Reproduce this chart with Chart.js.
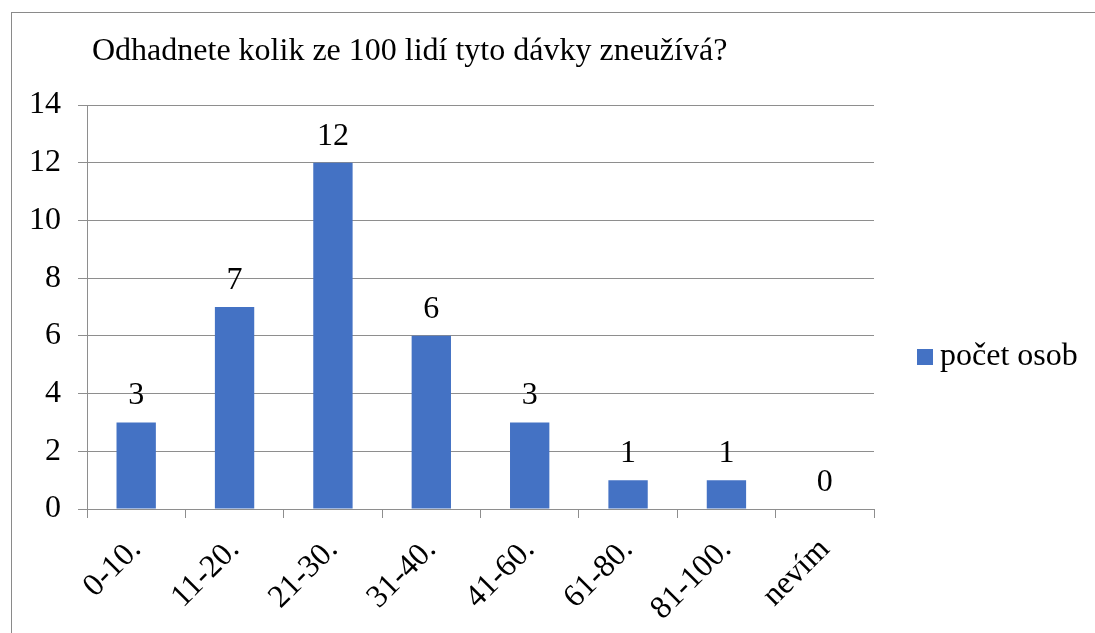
<!DOCTYPE html>
<html lang="cs">
<head>
    <meta charset="UTF-8">
    <title>Odhadnete kolik ze 100 lidí tyto dávky zneužívá?</title>
    <script src="https://cdn.jsdelivr.net/npm/chart.js"></script>
    <style>
        * {
            margin: 0;
            padding: 0;
            box-sizing: border-box;
        }

        body {
            background: #ffffff;
            width: 1095px;
            height: 633px;
            overflow: hidden;
            position: relative;
            font-family: 'Liberation Serif', 'Times New Roman', serif;
            color: #000000;
        }

        .frame {
            position: absolute;
            left: 11px;
            top: 12px;
            width: 1200px;
            height: 800px;
            border-left: 1px solid #8a8a8a;
            border-top: 1px solid #8a8a8a;
        }

        #chart-container {
            position: absolute;
            left: 0;
            top: 0;
            width: 1095px;
            height: 633px;
        }

        .title {
            position: absolute;
            left: 92px;
            top: 33px;
            font-size: 32px;
            line-height: 32px;
            white-space: nowrap;
        }

        .legend {
            position: absolute;
            left: 917px;
            top: 338px;
            font-size: 32px;
            line-height: 32px;
            white-space: nowrap;
            display: flex;
            align-items: flex-start;
        }

        .legend .box {
            display: inline-block;
            width: 16px;
            height: 16px;
            margin-top: 11px;
            margin-right: 7px;
        }
    </style>
</head>
<body>
    <div class="frame"></div>
    <div id="chart-container">
        <canvas id="chart"></canvas>
    </div>
    <div class="title" id="title"></div>
    <div class="legend" id="legend"></div>

    <script>
        // data
        const chartTitle = 'Odhadnete kolik ze 100 lidí tyto dávky zneužívá?';
        const categories = ['0-10.', '11-20.', '21-30.', '31-40.', '41-60.', '61-80.', '81-100.', 'nevím'];
        const seriesName = 'počet osob';
        const counts = [3, 7, 12, 6, 3, 1, 1, 0];
        const yTicks = [0, 2, 4, 6, 8, 10, 12, 14];

        const barColor = '#4472C4';
        const gridColor = '#8e8e8e';
        const fontFamily = "'Liberation Serif', 'Times New Roman', serif";
        const fontSize = 32;

        document.getElementById('title').textContent = chartTitle;
        const legend = document.getElementById('legend');
        const box = document.createElement('span');
        box.className = 'box';
        box.style.background = barColor;
        legend.appendChild(box);
        legend.appendChild(document.createTextNode(seriesName));

        // value labels above the bars
        const valueLabels = {
            id: 'valueLabels',
            afterDatasetsDraw(chart) {
                const ctx = chart.ctx;
                const meta = chart.getDatasetMeta(0);
                ctx.save();
                ctx.font = fontSize + 'px ' + fontFamily;
                ctx.fillStyle = '#000000';
                ctx.textAlign = 'center';
                ctx.textBaseline = 'alphabetic';
                meta.data.forEach((bar, i) => {
                    ctx.fillText(String(counts[i]), bar.x, bar.y - 18);
                });
                ctx.restore();
            }
        };

        const ctx = document.getElementById('chart').getContext('2d');
        new Chart(ctx, {
            type: 'bar',
            data: {
                labels: categories,
                datasets: [{
                    label: seriesName,
                    data: counts,
                    backgroundColor: barColor,
                    borderWidth: 0,
                    barPercentage: 0.4,
                    categoryPercentage: 1.0,
                }],
            },
            options: {
                responsive: true,
                maintainAspectRatio: false,
                animation: false,
                layout: {
                    padding: { left: 0, top: 105, right: 221, bottom: 0 },
                },
                plugins: {
                    legend: { display: false },
                    title: { display: false },
                    tooltip: { enabled: false },
                },
                scales: {
                    x: {
                        afterFit: (scale) => { scale.height = 124; },
                        grid: {
                            offset: true,
                            drawOnChartArea: false,
                            drawTicks: true,
                            tickLength: 9,
                            color: gridColor,
                        },
                        border: { color: gridColor },
                        ticks: {
                            autoSkip: false,
                            minRotation: 45,
                            maxRotation: 45,
                            padding: 13,
                            color: '#000000',
                            font: { family: fontFamily, size: fontSize },
                        },
                    },
                    y: {
                        min: 0,
                        max: 14,
                        afterFit: (scale) => { scale.width = 87; },
                        afterBuildTicks: (scale) => {
                            scale.ticks = yTicks.map((v) => ({ value: v }));
                        },
                        grid: {
                            color: gridColor,
                            tickLength: 9,
                        },
                        border: { color: gridColor },
                        ticks: {
                            padding: 17,
                            color: '#000000',
                            font: { family: fontFamily, size: fontSize },
                        },
                    },
                },
            },
            plugins: [valueLabels],
        });
    </script>
</body>
</html>
